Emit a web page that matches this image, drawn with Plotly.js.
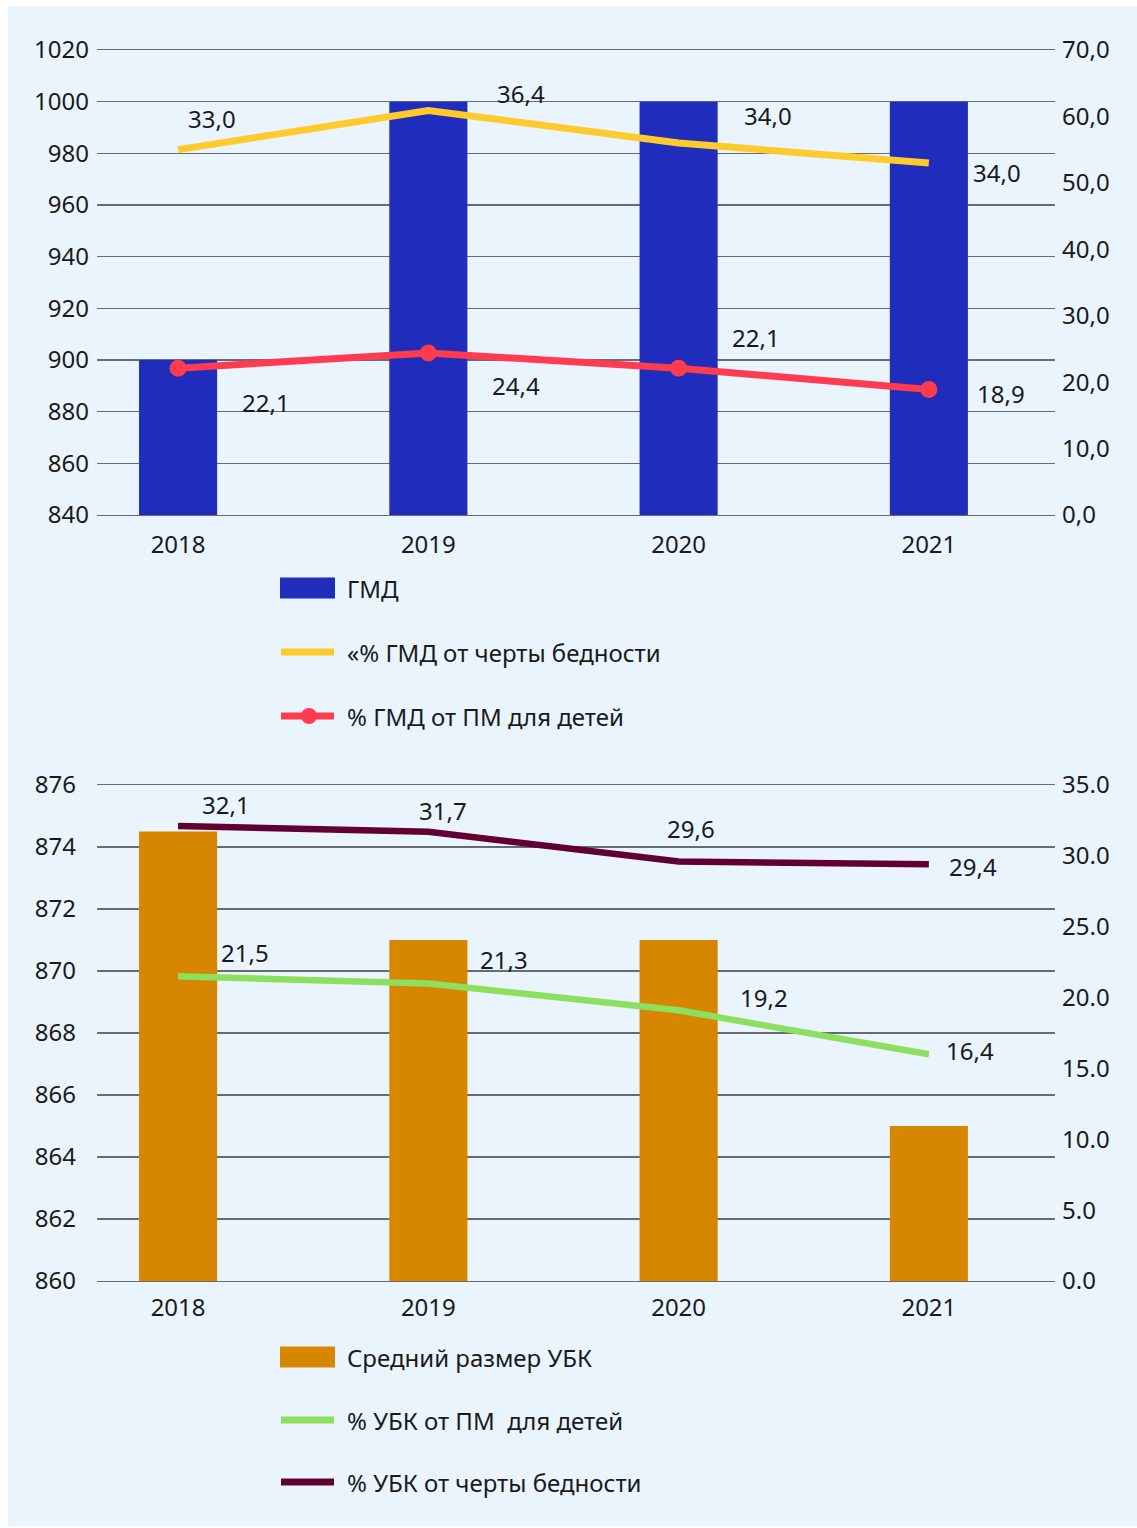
<!DOCTYPE html>
<html>
<head>
<meta charset="utf-8">
<script src="https://cdn.plot.ly/plotly-3.0.1.min.js"></script>
<style>
  html, body { margin: 0; padding: 0; background: #ffffff; }
  #chart { width: 1137px; height: 1528px; }
</style>
</head>
<body>
<div id="chart"></div>
<script>
// ---------- DATA ----------
const years = ['2018', '2019', '2020', '2021'];

// Top chart
const gmd = [900, 1000, 1000, 1000];
const gmdPovertyPct = [55.0, 60.9, 56.0, 53.0];           // plotted line positions
const gmdPovertyLabels = ['33,0', '36,4', '34,0', '34,0']; // printed data labels
const gmdChildPct = [22.1, 24.4, 22.1, 18.9];
const gmdChildLabels = ['22,1', '24,4', '22,1', '18,9'];
const topLeftTicks = [840, 860, 880, 900, 920, 940, 960, 980, 1000, 1020];
const topRightTicks = [0, 10, 20, 30, 40, 50, 60, 70];

// Bottom chart
const ubk = [874.5, 871, 871, 865];
const ubkChildPct = [21.5, 21.0, 19.1, 16.0];
const ubkChildLabels = ['21,5', '21,3', '19,2', '16,4'];
const ubkPovertyPct = [32.1, 31.7, 29.6, 29.4];
const ubkPovertyLabels = ['32,1', '31,7', '29,6', '29,4'];
const botLeftTicks = [860, 862, 864, 866, 868, 870, 872, 874, 876];
const botRightTicks = [0, 5, 10, 15, 20, 25, 30, 35];

// Legend names
const topNames = ['ГМД', '«% ГМД от черты бедности', '% ГМД от ПМ для детей'];
const botNames = ['Средний размер УБК', '% УБК от ПМ  для детей', '% УБК от черты бедности'];

// ---------- STYLE ----------
const W = 1137, H = 1528;
const FONT = '"Noto Sans", "Open Sans", sans-serif';
const FS = 24;
const TXT = '#1a1a1a';
const GRID = '#676b71';
const C = {
  blue: '#1f2cbc', yellow: '#ffca2c', red: '#ff3b4f',
  orange: '#d78600', green: '#8de05f', dark: '#600033', bg: '#eaf4fd'
};
const px = x => x / W;
const py = y => 1 - y / H;

// label offsets (pixels) relative to each point: [dx, dy up]
const offYellow = [[34, 31], [93, 17], [89, 27], [68, -10]];
const offRed = [[88, -34], [88, -33], [77, 31], [72, -4]];
const offDark = [[48, 22], [15, 21], [12, 33], [44, -2]];
const offGreen = [[67, 24], [76, 24], [85, 13], [41, 4]];

const traces = [
  { type: 'bar', x: years, y: gmd, name: topNames[0], marker: { color: C.blue },
    width: 0.312, xaxis: 'x', yaxis: 'y', showlegend: false },
  { type: 'scatter', mode: 'lines', x: years, y: gmdPovertyPct, name: topNames[1],
    line: { color: C.yellow, width: 7 }, xaxis: 'x', yaxis: 'y2', showlegend: false },
  { type: 'scatter', mode: 'lines+markers', x: years, y: gmdChildPct, name: topNames[2],
    line: { color: C.red, width: 7 }, marker: { color: C.red, size: 17 },
    xaxis: 'x', yaxis: 'y2', showlegend: false },

  { type: 'bar', x: years, y: ubk, name: botNames[0], marker: { color: C.orange },
    width: 0.312, xaxis: 'x2', yaxis: 'y3', showlegend: false },
  { type: 'scatter', mode: 'lines', x: years, y: ubkChildPct, name: botNames[1],
    line: { color: C.green, width: 6.5 }, xaxis: 'x2', yaxis: 'y4', showlegend: false },
  { type: 'scatter', mode: 'lines', x: years, y: ubkPovertyPct, name: botNames[2],
    line: { color: C.dark, width: 6.5 }, xaxis: 'x2', yaxis: 'y4', showlegend: false }
];

// annotation x uses the category index (numeric-looking category names would be read as indices)
function labelAnns(vals, labels, offs, xref, yref) {
  return vals.map((v, i) => ({
    x: i, y: v, xref: xref, yref: yref, text: labels[i], showarrow: false,
    xshift: offs[i][0], yshift: offs[i][1], xanchor: 'center', yanchor: 'middle',
    font: { family: FONT, size: FS, color: TXT }
  }));
}

const annotations = [].concat(
  labelAnns(gmdPovertyPct, gmdPovertyLabels, offYellow, 'x', 'y2'),
  labelAnns(gmdChildPct, gmdChildLabels, offRed, 'x', 'y2'),
  labelAnns(ubkPovertyPct, ubkPovertyLabels, offDark, 'x2', 'y4'),
  labelAnns(ubkChildPct, ubkChildLabels, offGreen, 'x2', 'y4')
);

// Custom legends
const shapes = [
  { type: 'rect', xref: 'paper', yref: 'paper', x0: px(8), x1: px(1137), y0: py(1526), y1: py(6),
    fillcolor: C.bg, line: { width: 0 }, layer: 'below' }
];
function legendItems(names, kinds, colors, yCenters) {
  names.forEach((n, i) => {
    const yc = yCenters[i];
    if (kinds[i] === 'bar') {
      shapes.push({ type: 'rect', xref: 'paper', yref: 'paper', x0: px(280), x1: px(335),
        y0: py(yc + 10.5), y1: py(yc - 10.5), fillcolor: colors[i], line: { width: 0 } });
    } else {
      shapes.push({ type: 'line', xref: 'paper', yref: 'paper', x0: px(281), x1: px(334),
        y0: py(yc), y1: py(yc), line: { color: colors[i], width: 7 } });
      if (kinds[i] === 'marker') {
        shapes.push({ type: 'circle', xref: 'paper', yref: 'paper', x0: px(301), x1: px(317),
          y0: py(yc + 8), y1: py(yc - 8), fillcolor: colors[i], line: { width: 0 } });
      }
    }
    annotations.push({ xref: 'paper', yref: 'paper', x: px(345), y: py(yc), text: n,
      showarrow: false, xanchor: 'left', yanchor: 'middle',
      font: { family: FONT, size: FS, color: TXT } });
  });
}
legendItems(topNames, ['bar', 'line', 'marker'], [C.blue, C.yellow, C.red], [588, 652, 716]);
legendItems(botNames, ['bar', 'line', 'line'], [C.orange, C.green, C.dark], [1357, 1420, 1482]);

// x axis line (bottom) and its mirror (top) play the role of the edge gridlines
const xCommon = {
  type: 'category', range: [-0.324, 3.504], showgrid: false, zeroline: false,
  showline: true, mirror: true, linecolor: GRID, linewidth: 1.4,
  ticks: '', tickfont: { family: FONT, size: FS, color: TXT }, fixedrange: true
};
const fmtComma = v => v.toFixed(1).replace('.', ',');
const fmtDot = v => v.toFixed(1);

const layout = {
  width: W, height: H,
  margin: { l: 0, r: 0, t: 0, b: 0 },
  paper_bgcolor: '#ffffff', plot_bgcolor: 'rgba(0,0,0,0)',
  font: { family: FONT, size: FS, color: TXT },
  showlegend: false,
  barmode: 'group',
  xaxis: Object.assign({}, xCommon, { domain: [px(97), px(1055)], anchor: 'y', ticklabelstandoff: 8 }),
  yaxis: {
    domain: [py(515), py(50)], range: [840, 1020], tickvals: topLeftTicks,
    showgrid: true, gridcolor: GRID, gridwidth: 1.4, zeroline: false, showline: false,
    ticks: '', ticklabelstandoff: 7, tickfont: { family: FONT, size: FS, color: TXT }, anchor: 'x'
  },
  yaxis2: {
    overlaying: 'y', side: 'right', anchor: 'x', range: [0, 70],
    tickvals: topRightTicks, ticktext: topRightTicks.map(fmtComma),
    showgrid: false, zeroline: false, showline: false, ticks: '', ticklabelstandoff: 6,
    tickfont: { family: FONT, size: FS, color: TXT }
  },
  xaxis2: Object.assign({}, xCommon, { domain: [px(97), px(1055)], anchor: 'y3', ticklabelstandoff: 5 }),
  yaxis3: {
    domain: [py(1281), py(785)], range: [860, 876], tickvals: botLeftTicks,
    showgrid: true, gridcolor: GRID, gridwidth: 1.4, zeroline: false, showline: false,
    ticks: '', ticklabelstandoff: 20, tickfont: { family: FONT, size: FS, color: TXT }, anchor: 'x2'
  },
  yaxis4: {
    overlaying: 'y3', side: 'right', anchor: 'x2', range: [0, 35],
    tickvals: botRightTicks, ticktext: botRightTicks.map(fmtDot),
    showgrid: false, zeroline: false, showline: false, ticks: '', ticklabelstandoff: 6,
    tickfont: { family: FONT, size: FS, color: TXT }
  },
  annotations: annotations,
  shapes: shapes
};

Plotly.newPlot('chart', traces, layout, { displayModeBar: false, staticPlot: true });
</script>
</body>
</html>
